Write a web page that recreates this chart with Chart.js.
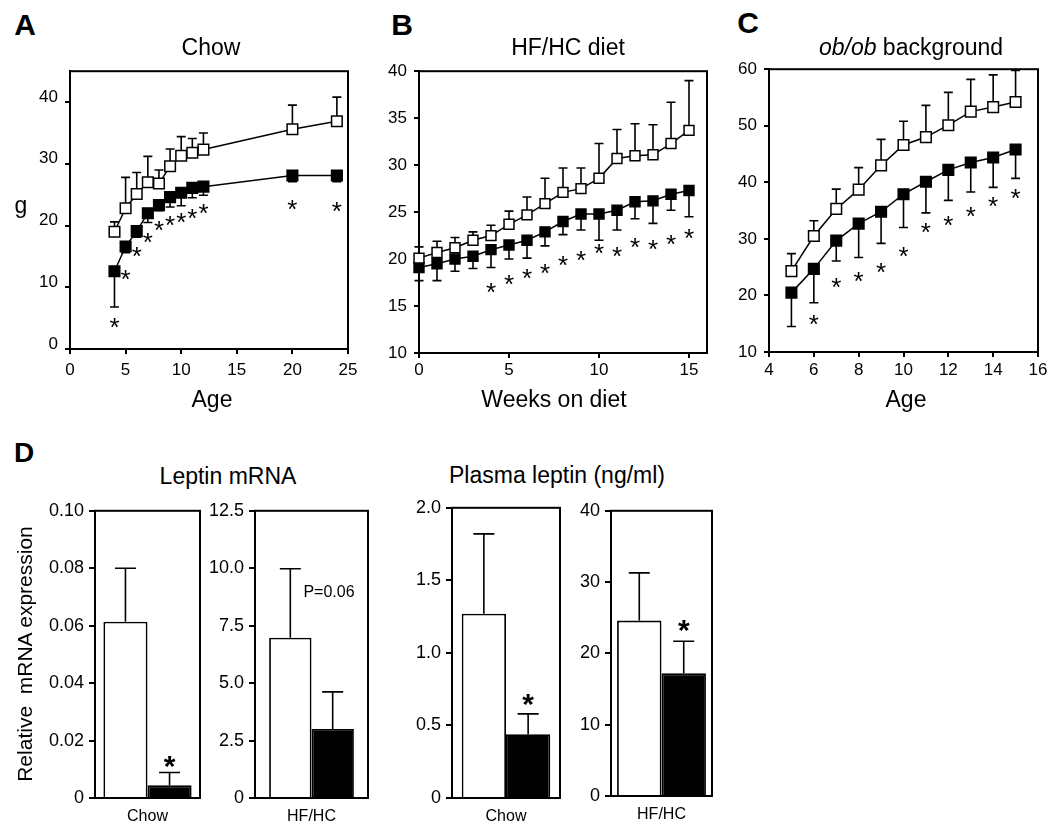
<!DOCTYPE html>
<html>
<head>
<meta charset="utf-8">
<script src="https://cdn.jsdelivr.net/npm/chart.js@4.4.0/dist/chart.umd.min.js"></script>
<style>
body { margin: 0; background: #fff; }
#fig { position: relative; width: 1050px; height: 827px; overflow: hidden; font-family: 'Liberation Sans', Arial, sans-serif; color: #000; }
#fig canvas { position: absolute; }
.txt { position: absolute; white-space: nowrap; line-height: 1; transform: translateX(-50%); }
</style>
</head>
<body>
<div id="fig"></div>
<script>
// A - chow, body weight (g) vs age
const aAge = [4, 5, 6, 7, 8, 9, 10, 11, 12, 20, 24];
const aOpen = [19.0, 22.8, 25.1, 27.0, 26.8, 29.6, 31.3, 31.8, 32.3, 35.6, 36.9];
const aOpenErr = [1.6, 5.0, 3.5, 4.2, 2.2, 2.8, 3.1, 2.3, 2.7, 3.9, 3.9];
const aFilled = [12.6, 16.6, 19.1, 22.0, 23.3, 24.6, 25.3, 26.1, 26.3, 28.1, 28.1];
const aFilledErr = [5.8, 1.0, 1.0, 1.5, 0.9, 1.6, 2.1, 1.6, 1.4, 1.0, 1.0];
const aStars = [4.5, 12.4, 16.1, 18.3, 20.3, 21.0, 21.5, 22.2, 23.0, 23.6, 23.3];
const aXTicks = [0, 5, 10, 15, 20, 25];
const aYTicks = [0, 10, 20, 30, 40];

// B - HF/HC diet, weeks on diet
const bWeeks = [0, 1, 2, 3, 4, 5, 6, 7, 8, 9, 10, 11, 12, 13, 14, 15];
const bOpen = [20.1, 20.7, 21.2, 22.0, 22.5, 23.7, 24.7, 25.9, 27.1, 27.5, 28.6, 30.7, 31.0, 31.1, 32.3, 33.7];
const bOpenErr = [1.2, 1.2, 1.1, 0.9, 1.1, 1.4, 1.9, 2.7, 2.6, 2.2, 3.7, 3.1, 3.4, 3.2, 4.4, 5.3];
const bFilled = [19.1, 19.5, 20.0, 20.3, 21.0, 21.5, 22.0, 22.9, 24.0, 24.8, 24.8, 25.2, 26.1, 26.2, 26.9, 27.3];
const bFilledErr = [1.4, 1.8, 1.3, 1.3, 1.9, 1.5, 1.9, 1.5, 1.4, 1.7, 2.8, 2.1, 1.8, 2.4, 1.7, 2.8];
const bStarWeeks = [4, 5, 6, 7, 8, 9, 10, 11, 12, 13, 14, 15];
const bStars = [17.1, 18.0, 18.6, 19.2, 20.0, 20.6, 21.3, 21.0, 21.9, 21.7, 22.2, 22.9];
const bXTicks = [0, 5, 10, 15];
const bYTicks = [10, 15, 20, 25, 30, 35, 40];

// C - ob/ob background
const cAge = [5, 6, 7, 8, 9, 10, 11, 12, 13, 14, 15];
const cOpen = [24.3, 30.5, 35.3, 38.7, 43.0, 46.6, 48.0, 50.1, 52.5, 53.3, 54.2];
const cOpenErr = [3.1, 2.7, 3.5, 3.9, 4.6, 4.2, 5.6, 5.8, 5.7, 5.7, 5.6];
const cFilled = [20.5, 24.7, 29.7, 32.7, 34.8, 37.9, 40.1, 42.2, 43.5, 44.4, 45.8];
const cFilledErr = [6.0, 6.0, 3.6, 6.0, 5.6, 5.9, 5.5, 5.4, 5.2, 5.3, 5.1];
const cStarAge = [6, 7, 8, 9, 10, 11, 12, 13, 14, 15];
const cStars = [16.1, 22.5, 23.6, 25.2, 28.1, 32.3, 33.6, 35.1, 36.8, 38.3];
const cXTicks = [4, 6, 8, 10, 12, 14, 16];
const cYTicks = [10, 20, 30, 40, 50, 60];

// D - leptin mRNA and plasma leptin
const d1Open = [0.0614], d1OpenErr = [0.0186];
const d1Filled = [0.0044], d1FilledErr = [0.0045];
const d1Stars = [0.0138];
const d1Ticks = [0, 0.02, 0.04, 0.06, 0.08, 0.10];
const d1TickLabels = ['0', '0.02', '0.04', '0.06', '0.08', '0.10'];

const d2Open = [6.98], d2OpenErr = [3.0];
const d2Filled = [3.0], d2FilledErr = [1.62];
const d2Stars = [];
const d2Ticks = [0, 2.5, 5, 7.5, 10, 12.5];
const d2TickLabels = ['0', '2.5', '5.0', '7.5', '10.0', '12.5'];

const d3Open = [1.27], d3OpenErr = [0.55];
const d3Filled = [0.44], d3FilledErr = [0.14];
const d3Stars = [0.70];
const d3Ticks = [0, 0.5, 1, 1.5, 2];
const d3TickLabels = ['0', '0.5', '1.0', '1.5', '2.0'];

const d4Open = [24.6], d4OpenErr = [6.7];
const d4Filled = [17.2], d4FilledErr = [4.5];
const d4Stars = [24.3];
const d4Ticks = [0, 10, 20, 30, 40];
const d4TickLabels = ['0', '10', '20', '30', '40'];

Chart.defaults.font.family = "'Liberation Sans', Arial, sans-serif";
Chart.defaults.color = '#000';

const fig = document.getElementById('fig');
const YW = 56, PT = 14, PR = 16, XH = 44;

// whiskers drawn from each mark up (1) or down (-1)
const errorBars = {
    id: 'errorBars',
    beforeDatasetsDraw(chart) {
        const ctx = chart.ctx;
        const ys = chart.scales.y;
        chart.data.datasets.forEach((ds, i) => {
            if (!ds.errors) return;
            const meta = chart.getDatasetMeta(i);
            ctx.save();
            ctx.strokeStyle = '#000';
            ctx.lineWidth = 1.6;
            meta.data.forEach((el, j) => {
                const v = typeof ds.data[j] === 'object' ? ds.data[j].y : ds.data[j];
                const end = ys.getPixelForValue(v + ds.errDir * ds.errors[j]);
                ctx.beginPath();
                ctx.moveTo(el.x, el.y);
                ctx.lineTo(el.x, end);
                ctx.moveTo(el.x - ds.cap / 2, end);
                ctx.lineTo(el.x + ds.cap / 2, end);
                ctx.stroke();
            });
            ctx.restore();
        });
    }
};

// closed box round the plot area
const frame = {
    id: 'frame',
    beforeDatasetsDraw(chart) {
        const a = chart.chartArea;
        const ctx = chart.ctx;
        ctx.save();
        ctx.strokeStyle = '#000';
        ctx.lineWidth = 2;
        ctx.strokeRect(a.left, a.top, a.right - a.left, a.bottom - a.top);
        ctx.restore();
    }
};
Chart.register(errorBars, frame);

function starPlugin(xs, ys, size, bold) {
    return {
        id: 'stars',
        afterDatasetsDraw(chart) {
            const ctx = chart.ctx;
            ctx.save();
            ctx.fillStyle = '#000';
            ctx.font = (bold ? 'bold ' : '') + size + "px 'Liberation Sans', Arial, sans-serif";
            ctx.textAlign = 'center';
            ctx.textBaseline = 'alphabetic';
            ys.forEach((v, i) => {
                let px;
                if (xs === null) px = chart.getDatasetMeta(1).data[i].x;
                else px = chart.scales.x.getPixelForValue(xs[i]);
                ctx.fillText('*', px, chart.scales.y.getPixelForValue(v) + size * 0.58);
            });
            ctx.restore();
        }
    };
}

function makeCanvas(box) {
    const c = document.createElement('canvas');
    c.width = box.R - box.L + YW + PR;
    c.height = box.B - box.T + PT + XH;
    c.style.left = (box.L - YW) + 'px';
    c.style.top = (box.T - PT) + 'px';
    fig.appendChild(c);
    return c;
}

function axisStyle(tickLen) {
    return {
        grid: { drawOnChartArea: false, color: '#000', lineWidth: 2, tickLength: tickLen },
        border: { color: '#000', width: 2 }
    };
}

function lineChart(p) {
    const pts = (xs, ys) => xs.map((x, i) => ({ x: x, y: ys[i] }));
    const set = (data, err, dir, fill) => ({
        data: data,
        errors: err,
        errDir: dir,
        cap: 9,
        borderColor: '#000',
        borderWidth: 1.5,
        pointStyle: 'rect',
        pointRadius: p.r,
        pointBackgroundColor: fill,
        pointBorderColor: '#000',
        pointBorderWidth: 1.5,
        tension: 0,
        clip: false
    });
    new Chart(makeCanvas(p.box), {
        type: 'line',
        data: {
            datasets: [
                set(pts(p.x, p.open), p.openErr, 1, '#fff'),
                set(pts(p.x, p.filled), p.filledErr, -1, '#000')
            ]
        },
        options: {
            responsive: false,
            devicePixelRatio: 1,
            animation: false,
            layout: { padding: { left: 0, top: PT, right: PR, bottom: 0 } },
            plugins: { legend: { display: false }, tooltip: { enabled: false } },
            scales: {
                x: Object.assign(axisStyle(5), {
                    type: 'linear', min: p.xr[0], max: p.xr[1],
                    afterBuildTicks: s => { s.ticks = p.xTicks.map(v => ({ value: v })); },
                    afterFit: s => { s.height = XH; },
                    ticks: { padding: p.xPad, font: { size: 17 }, maxRotation: 0, autoSkip: false }
                }),
                y: Object.assign(axisStyle(5), {
                    min: p.yr[0], max: p.yr[1],
                    afterBuildTicks: s => { s.ticks = p.yTicks.map(v => ({ value: v })); },
                    afterFit: s => { s.width = YW; },
                    ticks: { padding: 7, font: { size: 17 }, labelOffset: p.yShift, autoSkip: false }
                })
            }
        },
        plugins: [starPlugin(p.starX, p.stars, 26, false)]
    });
}

function barChart(p) {
    new Chart(makeCanvas(p.box), {
        type: 'bar',
        data: {
            labels: [p.cat],
            datasets: [
                { data: p.open, errors: p.openErr, errDir: 1, cap: 21, backgroundColor: '#fff', borderColor: '#000', borderWidth: 1.8 },
                { data: p.filled, errors: p.filledErr, errDir: 1, cap: 21, backgroundColor: '#000', borderColor: '#000', borderWidth: 1.8 }
            ]
        },
        options: {
            responsive: false,
            devicePixelRatio: 1,
            animation: false,
            categoryPercentage: p.pct,
            barPercentage: 1,
            layout: { padding: { left: 0, top: PT, right: PR, bottom: 0 } },
            plugins: { legend: { display: false }, tooltip: { enabled: false } },
            scales: {
                x: {
                    grid: { drawOnChartArea: false, drawTicks: false },
                    border: { color: '#000', width: 2 },
                    afterFit: s => { s.height = XH; },
                    ticks: { padding: 9, font: { size: 16 } }
                },
                y: Object.assign(axisStyle(6), {
                    min: 0, max: p.ticks[p.ticks.length - 1],
                    afterBuildTicks: s => { s.ticks = p.ticks.map(v => ({ value: v })); },
                    afterFit: s => { s.width = YW; },
                    ticks: { padding: 5, font: { size: 18 }, autoSkip: false, callback: (v, i) => p.labels[i] }
                })
            }
        },
        plugins: [starPlugin(null, p.stars, 30, true)]
    });
}

lineChart({
    box: { L: 70, T: 68, R: 348, B: 349 }, x: aAge, open: aOpen, openErr: aOpenErr,
    filled: aFilled, filledErr: aFilledErr, starX: aAge, stars: aStars,
    xTicks: aXTicks, yTicks: aYTicks, xr: [0, 25], yr: [0, 45], r: 7.5, yShift: -5, xPad: 6
});
lineChart({
    box: { L: 419, T: 68, R: 707, B: 353 }, x: bWeeks, open: bOpen, openErr: bOpenErr,
    filled: bFilled, filledErr: bFilledErr, starX: bStarWeeks, stars: bStars,
    xTicks: bXTicks, yTicks: bYTicks, xr: [0, 16], yr: [10, 40], r: 7, yShift: 0, xPad: 2
});
lineChart({
    box: { L: 769, T: 66, R: 1038, B: 352 }, x: cAge, open: cOpen, openErr: cOpenErr,
    filled: cFilled, filledErr: cFilledErr, starX: cStarAge, stars: cStars,
    xTicks: cXTicks, yTicks: cYTicks, xr: [4, 16], yr: [10, 60], r: 7.5, yShift: 0, xPad: 3
});

barChart({ box: { L: 95, T: 509, R: 200, B: 798 }, cat: 'Chow', pct: 0.84, open: d1Open, openErr: d1OpenErr, filled: d1Filled, filledErr: d1FilledErr, stars: d1Stars, ticks: d1Ticks, labels: d1TickLabels });
barChart({ box: { L: 255, T: 509, R: 368, B: 798 }, cat: 'HF/HC', pct: 0.75, open: d2Open, openErr: d2OpenErr, filled: d2Filled, filledErr: d2FilledErr, stars: d2Stars, ticks: d2Ticks, labels: d2TickLabels });
barChart({ box: { L: 452, T: 506, R: 560, B: 798 }, cat: 'Chow', pct: 0.82, open: d3Open, openErr: d3OpenErr, filled: d3Filled, filledErr: d3FilledErr, stars: d3Stars, ticks: d3Ticks, labels: d3TickLabels });
barChart({ box: { L: 611, T: 509, R: 712, B: 796 }, cat: 'HF/HC', pct: 0.88, open: d4Open, openErr: d4OpenErr, filled: d4Filled, filledErr: d4FilledErr, stars: d4Stars, ticks: d4Ticks, labels: d4TickLabels });

// titles and labels, placed by centre x and baseline
function addText(html, cx, base, size, bold) {
    const d = document.createElement('div');
    d.className = 'txt';
    d.innerHTML = html;
    d.style.left = cx + 'px';
    d.style.top = (base - 0.8465 * size) + 'px';
    d.style.fontSize = size + 'px';
    if (bold) d.style.fontWeight = 'bold';
    fig.appendChild(d);
}

addText('A', 25, 35, 30, true);
addText('B', 402, 35, 30, true);
addText('C', 748, 33, 30, true);
addText('D', 24, 463, 28, true);

addText('Chow', 211, 55, 23);
addText('HF/HC diet', 568, 55, 23);
addText('<i>ob/ob</i> background', 911, 55, 23);

addText('Age', 212, 407, 23);
addText('Weeks on diet', 554, 407, 23);
addText('Age', 906, 407, 23);
addText('g', 21, 213, 23);

addText('Leptin mRNA', 228, 484, 23);
addText('Plasma leptin (ng/ml)', 557, 483, 23);
addText('P=0.06', 329, 598, 16);

const yt = document.createElement('div');
yt.className = 'txt';
yt.textContent = 'Relative  mRNA expression';
yt.style.whiteSpace = 'pre';
yt.style.fontSize = '21px';
yt.style.left = '24px';
yt.style.top = '654px';
yt.style.transform = 'translate(-50%, -50%) rotate(-90deg)';
fig.appendChild(yt);
</script>
</body>
</html>
